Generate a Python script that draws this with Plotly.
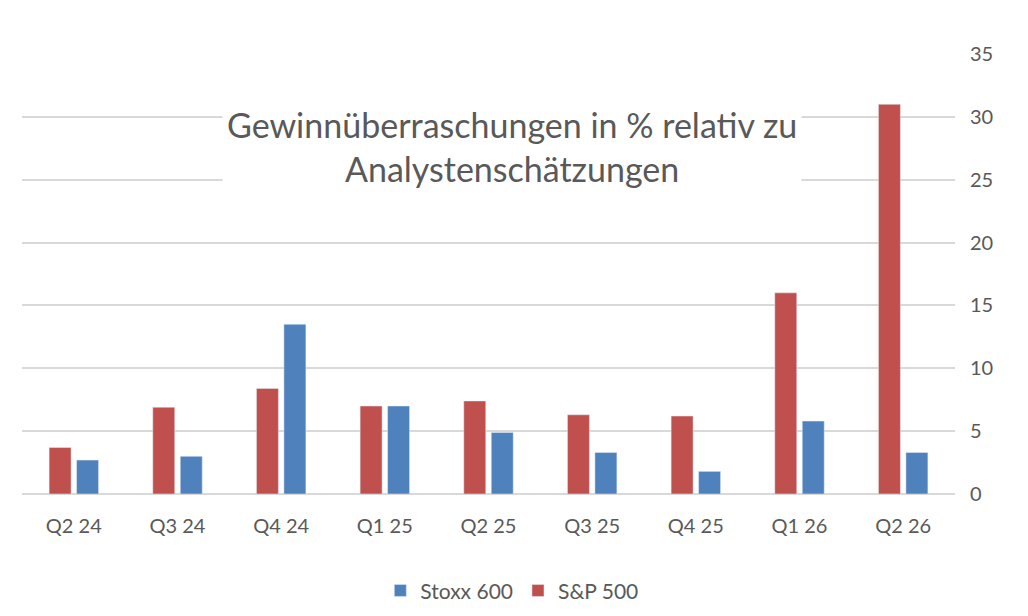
import plotly.graph_objects as go

quarters = ["Q2 24", "Q3 24", "Q4 24", "Q1 25", "Q2 25", "Q3 25", "Q4 25", "Q1 26", "Q2 26"]
sp500 = [3.7, 6.9, 8.4, 7.0, 7.4, 6.3, 6.2, 16.0, 31.0]
stoxx600 = [2.7, 3.0, 13.5, 7.0, 4.9, 3.3, 1.8, 5.8, 3.3]

title_text = "Gewinnüberraschungen in % relativ zu<br>Analystenschätzungen"

TEXT = "#595959"
GRID = "#D9D9D9"
FONT = "Lato, Carlito, Calibri, sans-serif"

fig = go.Figure()
fig.add_trace(go.Bar(x=quarters, y=sp500, name="S&P 500",
                     marker_color="#C0504D", legendrank=2))
fig.add_trace(go.Bar(x=quarters, y=stoxx600, name="Stoxx 600",
                     marker_color="#4F81BD", legendrank=1))

fig.update_layout(
    width=1028,
    height=616,
    paper_bgcolor="white",
    plot_bgcolor="white",
    font=dict(family=FONT, color=TEXT, size=20),
    margin=dict(l=14, r=81, t=46, b=130),
    barmode="group",
    bargap=0.47,
    bargroupgap=0.2,
    showlegend=True,
    legend=dict(orientation="h", x=0.525, xanchor="center", y=-0.22, yanchor="middle",
                font=dict(size=21), itemwidth=30, traceorder="normal"),
    xaxis=dict(showgrid=False, showline=False, ticks="outside", ticklen=14,
               tickcolor="rgba(0,0,0,0)"),
    yaxis=dict(side="right", range=[0, 35], dtick=5, gridcolor=GRID, gridwidth=2,
               zeroline=True, zerolinecolor=GRID, zerolinewidth=2, showline=False,
               ticks="outside", ticklen=10, tickcolor="rgba(0,0,0,0)"),
    annotations=[dict(
        text=title_text, xref="paper", yref="paper", x=0.525, y=0.79,
        xanchor="center", yanchor="middle", showarrow=False,
        font=dict(size=34, color=TEXT, family=FONT),
        bgcolor="white", borderpad=4,
    )],
)

fig.write_html("out.html")
